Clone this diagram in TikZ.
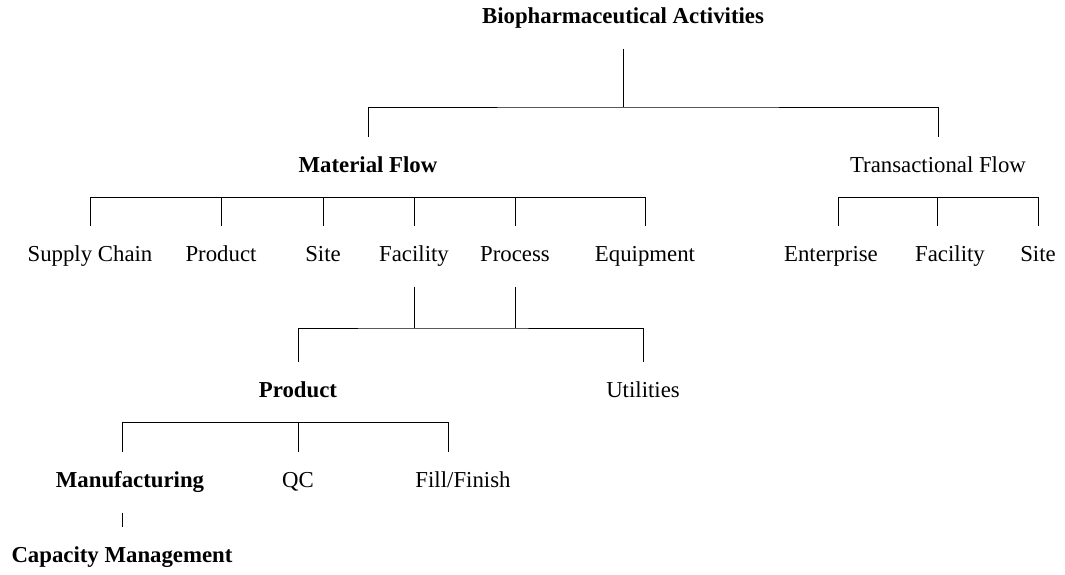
\documentclass[tikz,border=0pt]{standalone}
\usepackage{fontspec}
\setmainfont{Liberation Serif}
\tikzset{lbl/.style={minimum height=30pt,inner sep=0pt,text height=8pt,text depth=2.5pt,font=\fontsize{11.4}{13}\selectfont},
  blbl/.style={lbl,font=\fontsize{11.4}{13}\selectfont\bfseries}}
\begin{document}
\begin{tikzpicture}[x=0.5pt,y=-0.5pt,line width=0.5pt]
\useasboundingbox (0,0) rectangle (1065,574);
\node[blbl] (bio) at (623,18) {Biopharmaceutical Activities};
\node[blbl] (matflow) at (368,167) {Material Flow};
\node[lbl] (transflow) at (938,167) {Transactional Flow};
\node[lbl] (supply) at (90,256) {Supply Chain};
\node[lbl] (prod) at (221,256) {Product};
\node[lbl] (site) at (323,256) {Site};
\node[lbl] (facil) at (414,256) {Facility};
\node[lbl] (proc) at (515,256) {Process};
\node[lbl] (equip) at (645,256) {Equipment};
\node[lbl] (enterp) at (831,256) {Enterprise};
\node[lbl] (tfacil) at (950,256) {Facility};
\node[lbl] (tsite) at (1038,256) {Site};
\node[blbl] (product) at (298,392) {Product};
\node[lbl] (util) at (643,392) {Utilities};
\node[blbl] (manuf) at (130,482) {Manufacturing};
\node[lbl] (qc) at (298,482) {QC};
\node[lbl] (fill) at (463,482) {Fill/Finish};
\node[blbl] (capac) at (122,557) {Capacity Management};
\coordinate (topbar) at (623,107);
\coordinate (midbar) at (416,328);
\draw (bio.south) -- (topbar);
\draw (matflow.north) |- (topbar) -| (transflow.north);
\draw (supply.north) |- (matflow.south) -| (equip.north);
\foreach \n in {prod,site,facil,proc}
  \draw (\n.north) -- (\n.north |- matflow.south);
\draw ([xshift=3.5pt]enterp.north) |- (transflow.south) -| (tsite.north);
\draw ([xshift=-6.5pt]tfacil.north) -- ([xshift=-6.5pt]tfacil.north |- transflow.south);
\foreach \n in {facil,proc}
  \draw (\n.south) -- (\n.south |- midbar);
\draw (product.north) |- (midbar) -| (util.north);
\draw ([xshift=-4pt]manuf.north) |- (product.south) -| ([xshift=-7.5pt]fill.north);
\draw (qc.north) -- (qc.north |- product.south);
\draw ([xshift=-4pt]manuf.south) -- (capac.north);
\end{tikzpicture}
\end{document}
